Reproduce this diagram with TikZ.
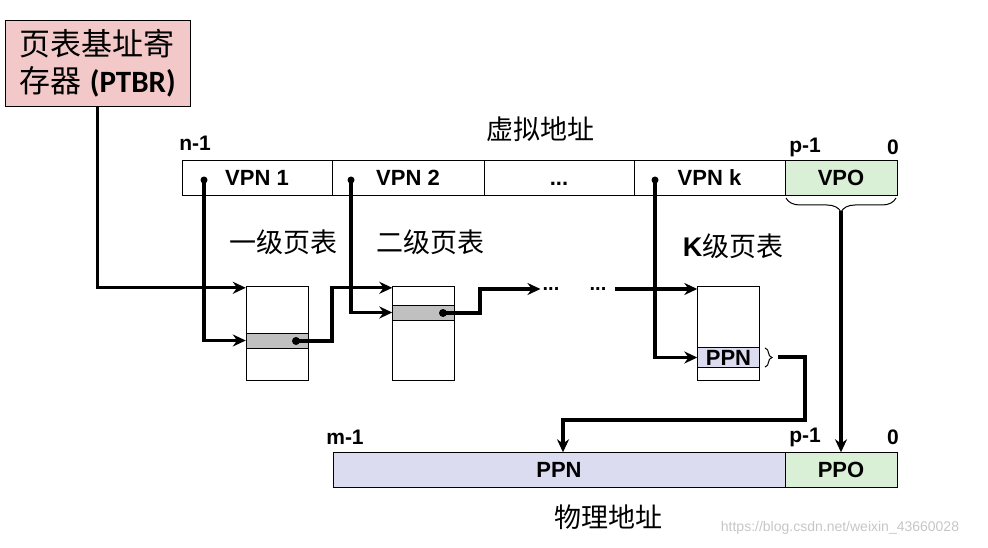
\documentclass[tikz,border=0pt]{standalone}
\usepackage{fontspec}
\setmainfont{Liberation Sans}
\newfontfamily\cjk{Noto Sans CJK SC}
\newfontfamily\calfont{Carlito}
\usetikzlibrary{decorations.pathreplacing, arrows.meta}
\tikzset{>=stealth}
\definecolor{ptbrpink}{HTML}{F2C8C8}
\definecolor{offgreen}{HTML}{D9F0D6}
\definecolor{ppnblue}{HTML}{DCDCF0}
\definecolor{rowgray}{HTML}{C0C0C0}

\begin{document}
\begin{tikzpicture}[x=1pt, y=-1pt,
    field/.style={draw, inner sep=0, minimum height=35pt,
      font=\bfseries\fontsize{22}{22}\selectfont},
    ptab/.style={draw, inner sep=0, minimum width=62pt, minimum height=94pt},
    prow/.style={draw, inner sep=0, minimum width=62pt, fill=rowgray},
    bit/.style={inner sep=0, font=\bfseries\fontsize{21}{21}\selectfont},
    title/.style={inner sep=0, font=\cjk\fontsize{27}{27}\selectfont},
    link/.style={line width=3.2pt, -{Stealth[length=13pt, width=12pt]}},
    dot/.style={fill, circle, inner sep=0, minimum size=8pt}]
    \useasboundingbox (0,0) rectangle (988,548);
    % page table base register
    \node[draw, fill=ptbrpink, minimum width=185pt, minimum height=86pt,
      align=left, inner sep=0, font=\fontsize{31}{37}\selectfont] (ptbr) at (97.5,63)
      {{\cjk 页表基址寄}\\{\cjk 存器} {\calfont\bfseries (PTBR)}};
    % virtual address
    \node[title] (vaddr) at (540,129) {虚拟地址};
    \node[field, minimum width=150pt] (vpn1) at (257,177.5) {VPN 1};
    \node[field, minimum width=152pt] (vpn2) at (408,177.5) {VPN 2};
    \node[field, minimum width=150pt] (vmid) at (559,177.5) {\vphantom{P}...};
    \node[field, minimum width=151pt] (vpnk) at (709.5,177.5) {VPN k};
    \node[field, minimum width=112pt, fill=offgreen] (vpo) at (841,177.5) {VPO};
    \node[bit] (vn) at (195,143) {n-1};
    \node[bit] (vp) at (805,147) {p-1};
    \node[bit] (vz) at (893,147) {0};
    \node[dot, minimum size=7pt] (d1) at (204,180) {};
    \node[dot, minimum size=7pt] (d2) at (351,180) {};
    \node[dot, minimum size=7pt] (dk) at (655,180) {};
    \draw[line width=1pt, decorate, decoration={brace, amplitude=14pt}]
      (896,198) -- (786,198);
    \coordinate (vb) at (841,211);
    % page tables
    \node[title] (t1) at (283,242) {一级页表};
    \node[title] (t2) at (430,242) {二级页表};
    \node[title] (tk) at (733,246) {{\bfseries\rmfamily K}级页表};
    \node[ptab] (tab1) at (277,333) {};
    \node[prow, minimum height=15pt] (row1) at (277,340.5) {};
    \node[ptab] (tab2) at (423.5,333) {};
    \node[prow, minimum height=15pt] (row2) at (423.5,312.5) {};
    \node[ptab] (tabk) at (728.5,333) {};
    \node[prow, minimum height=20pt, fill=ppnblue,
      font=\bfseries\fontsize{22}{22}\selectfont] (ppnk) at (728.5,357.5) {PPN};
    \node[dot] (e1) at (296,341) {};
    \node[dot] (e2) at (443,313) {};
    \node[inner sep=0, font=\bfseries\fontsize{20}{20}\selectfont] (dots1) at (551,289) {...};
    \node[inner sep=0, font=\bfseries\fontsize{20}{20}\selectfont] (dots2) at (598,289) {...};
    \draw[line width=1pt, decorate, decoration={brace, amplitude=7pt}]
      (765,348) -- (765,367);
    \coordinate (bk) at (778,357);
    % physical address
    \node[bit] (pm) at (345,437) {m-1};
    \node[bit] (pp) at (805,437) {p-1};
    \node[bit] (pz) at (893,437) {0};
    \node[field, minimum width=452pt, fill=ppnblue] (ppn) at (559,470) {PPN};
    \node[field, minimum width=112pt, fill=offgreen] (ppo) at (841,470) {PPO};
    \node[title] (paddr) at (608,517) {物理地址};
    % links
    \draw[link] (ptbr.south) |- ([yshift=-2pt]tab1.north west);
    \draw[link] (d1.center) |- (row1.west);
    \draw[link] (e1.center) -- ++(36,0) |- ([yshift=-2pt]tab2.north west);
    \draw[link] (d2.center) |- (row2.west);
    \draw[link] (e2.center) -- ++(37,0) |- ([xshift=-2pt]dots1.west);
    \draw[link] ([xshift=8pt]dots2.east) -- (dots2.east -| tabk.west);
    \draw[link] (dk.center) |- (ppnk.west);
    \draw[link] (bk) -| ++(27,63) -| ([xshift=4pt]ppn.north);
    \draw[link] (vb) -- (ppo.north);
    \node[inner sep=0, text=gray!45, font=\fontsize{14}{14}\selectfont] (wm)
      at (840,528) {https://blog.csdn.net/weixin\_43660028};
\end{tikzpicture}
\end{document}
